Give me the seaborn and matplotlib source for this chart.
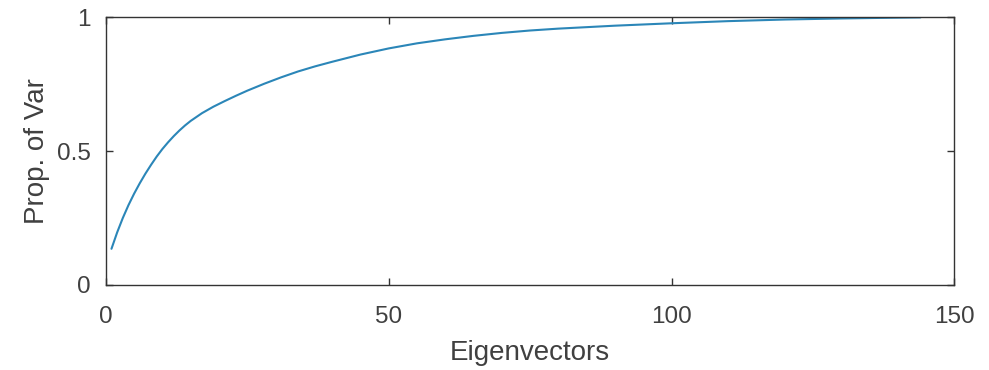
import numpy as np
import pandas as pd
import seaborn as sns
import matplotlib.pyplot as plt

# cumulative proportion of variance
eigen_idx = [1, 2, 3, 4, 5, 6, 7, 8, 9, 10, 11, 12, 13, 14, 15, 17, 19, 21,
             23, 25, 28, 31, 34, 37, 40, 45, 50, 55, 60, 65, 70, 75, 80, 90,
             100, 110, 120, 130, 140, 144]
prop_var = [0.135, 0.196, 0.250, 0.298, 0.341, 0.380, 0.416, 0.449, 0.480,
            0.508, 0.533, 0.556, 0.577, 0.596, 0.613, 0.642, 0.666, 0.687,
            0.707, 0.726, 0.752, 0.776, 0.798, 0.817, 0.834, 0.861, 0.884,
            0.903, 0.918, 0.931, 0.942, 0.951, 0.958, 0.969, 0.978, 0.986,
            0.992, 0.996, 0.999, 1.0]
x_ticks = [0, 50, 100, 150]
y_ticks = [0, 0.5, 1]
y_ticklabels = ['0', '0.5', '1']

df = pd.DataFrame({'Eigenvectors': eigen_idx, 'Prop. of Var': prop_var})

sns.set_theme(style='white')
plt.rcParams['font.family'] = ['Liberation Sans', 'DejaVu Sans']

fig = plt.figure(figsize=(9.89, 3.70), dpi=100)
ax = fig.add_axes([0.107, 0.23, 0.858, 0.723])

sns.lineplot(data=df, x='Eigenvectors', y='Prop. of Var', ax=ax,
             color='#2b86b8', linewidth=1.5)

ax.set_xlim(0, 150)
ax.set_ylim(0, 1)
ax.set_xticks(x_ticks)
ax.set_yticks(y_ticks)
ax.set_yticklabels(y_ticklabels)

for side in ['top', 'right', 'bottom', 'left']:
    ax.spines[side].set_visible(True)
    ax.spines[side].set_color('#333333')
    ax.spines[side].set_linewidth(1.0)

ax.tick_params(axis='both', direction='in', length=5, width=1.0,
               colors='#333333', labelcolor='#404040', labelsize=17.5,
               top=True, right=True, bottom=True, left=True)
ax.tick_params(axis='x', pad=15)
ax.tick_params(axis='y', pad=11)

ax.set_xlabel('Eigenvectors', fontsize=20, color='#404040', labelpad=9)
ax.set_ylabel('Prop. of Var', fontsize=20, color='#404040', labelpad=5)

fig.savefig('out.png', dpi=100)
